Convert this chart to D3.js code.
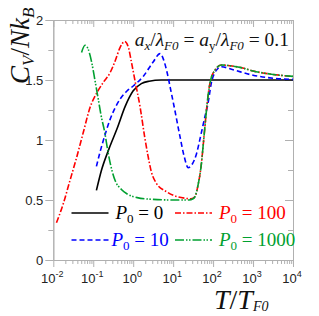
<!DOCTYPE html>
<html><head><meta charset="utf-8">
<script src="https://cdn.jsdelivr.net/npm/d3@7"></script>
<style>body{margin:0;background:#fff}svg{display:block}</style>
</head><body>
<script>
// ---- data ----
const xDecades = [0.01, 0.1, 1, 10, 100, 1000, 10000];
const xExponents = ["-2", "-1", "0", "1", "2", "3", "4"];
const yTicks = [0, 0.5, 1, 1.5, 2];
const yTickLabels = ["0", "0.5", "1", "1.5", "2"];
const yMinorTicks = [0.25, 0.75, 1.25, 1.75];

const tBlack = [0.12, 0.158, 0.25, 0.4, 0.63, 1, 1.6, 2.5, 5, 10, 100, 1000, 10000];
const cBlack = [0.58, 0.74, 0.93, 1.1, 1.28, 1.41, 1.47, 1.49, 1.5, 1.5, 1.5, 1.5, 1.5];

const tBlue = [0.12, 0.148, 0.2, 0.263, 0.355, 0.468, 0.708, 1, 1.78, 3.16, 4.68, 5.75, 7.08, 8.9, 11, 14.8, 19, 23.7, 30.2, 38, 50, 63, 74, 91, 120, 162, 316, 1000, 3160, 10000];
const cBlue = [0.78, 0.9, 1.05, 1.17, 1.27, 1.34, 1.41, 1.45, 1.53, 1.65, 1.72, 1.67, 1.56, 1.4, 1.25, 1.03, 0.86, 0.77, 0.8, 0.88, 1.05, 1.2, 1.3, 1.48, 1.58, 1.61, 1.585, 1.54, 1.515, 1.505];

const tRed = [0.012, 0.0178, 0.025, 0.038, 0.056, 0.083, 0.126, 0.178, 0.263, 0.355, 0.468, 0.617, 0.76, 0.89, 1.1, 1.48, 1.95, 2.34, 2.82, 3.8, 6.76, 12, 19.5, 28, 35.5, 41.7, 50, 60, 70.8, 83, 110, 162, 316, 550, 1000, 2630, 10000];
const cRed = [0.31, 0.47, 0.64, 0.85, 1.06, 1.27, 1.4, 1.48, 1.56, 1.66, 1.77, 1.82, 1.77, 1.66, 1.5, 1.28, 1.02, 0.87, 0.74, 0.64, 0.57, 0.53, 0.515, 0.51, 0.53, 0.62, 0.78, 1.05, 1.3, 1.47, 1.58, 1.625, 1.615, 1.6, 1.575, 1.55, 1.53];

const tGreen = [0.051, 0.062, 0.074, 0.091, 0.11, 0.132, 0.158, 0.195, 0.234, 0.282, 0.355, 0.5, 0.708, 1.26, 3.16, 10, 25, 31.6, 35.5, 41.7, 50, 60, 70.8, 83, 110, 162, 316, 550, 1000, 2630, 10000];
const cGreen = [1.73, 1.79, 1.76, 1.65, 1.5, 1.35, 1.2, 1.06, 0.9, 0.77, 0.66, 0.59, 0.55, 0.52, 0.505, 0.5, 0.5, 0.51, 0.53, 0.62, 0.78, 1.05, 1.3, 1.47, 1.58, 1.625, 1.615, 1.6, 1.575, 1.55, 1.53];

const seriesNames = ["0", "10", "100", "1000"];
const seriesColors = ["#000000", "#0000ff", "#ff0000", "#00a030"];
const seriesDash = [null, "5,3", "6,2,1.5,2", "9,2,1.5,1.5,1.5,2"];

// ---- layout ----
const W = 319, H = 316;
const m = {l: 53.3, r: 26, t: 20, b: 56};
const svg = d3.select("body").append("svg").attr("width", W).attr("height", H);
const x = d3.scaleLog().domain([0.01, 10000]).range([m.l, W - m.r]);
const y = d3.scaleLinear().domain([0, 2]).range([H - m.b, m.t]);
const axisColor = "#b0b0b0";
const x0 = x.range()[0], x1 = x.range()[1], y0 = y.range()[0], y1 = y.range()[1];

// minor x ticks
const xMinor = [];
xDecades.slice(0, -1).forEach(d => { for (let k = 2; k <= 9; k++) xMinor.push(d * k); });

function styleAxis(g) {
  g.select(".domain").attr("stroke", axisColor);
  g.selectAll(".tick line").attr("stroke", axisColor);
  g.selectAll(".tick text").remove();
}
// bottom
svg.append("g").attr("transform", `translate(0,${y0})`)
  .call(d3.axisBottom(x).tickValues(xDecades).tickSize(7).tickSizeOuter(0)).call(styleAxis);
svg.append("g").attr("transform", `translate(0,${y0})`)
  .call(d3.axisBottom(x).tickValues(xMinor).tickSize(4).tickSizeOuter(0)).call(styleAxis);
// top
svg.append("g").attr("transform", `translate(0,${y1})`)
  .call(d3.axisTop(x).tickValues(xDecades).tickSize(-7).tickSizeOuter(0)).call(styleAxis);
svg.append("g").attr("transform", `translate(0,${y1})`)
  .call(d3.axisTop(x).tickValues(xMinor).tickSize(-4).tickSizeOuter(0)).call(styleAxis);
// left
svg.append("g").attr("transform", `translate(${x0},0)`)
  .call(d3.axisLeft(y).tickValues(yTicks).tickSize(8).tickSizeOuter(0)).call(styleAxis);
svg.append("g").attr("transform", `translate(${x0},0)`)
  .call(d3.axisLeft(y).tickValues(yMinorTicks).tickSize(5).tickSizeOuter(0)).call(styleAxis);
// right
svg.append("g").attr("transform", `translate(${x1},0)`)
  .call(d3.axisRight(y).tickValues(yTicks).tickSize(-8).tickSizeOuter(0)).call(styleAxis);
svg.append("g").attr("transform", `translate(${x1},0)`)
  .call(d3.axisRight(y).tickValues(yMinorTicks).tickSize(-5).tickSizeOuter(0)).call(styleAxis);

// tick labels
const lblFont = "'Liberation Sans', Arial, sans-serif";
svg.append("g").selectAll("text").data(yTicks).join("text")
  .attr("x", x0 - 10).attr("y", d => y(d) + 4.5)
  .attr("text-anchor", "end").attr("font-family", lblFont).attr("font-size", 13).attr("fill", "#222")
  .text((d, i) => yTickLabels[i]);
const xl = svg.append("g").selectAll("text").data(xDecades).join("text")
  .attr("x", d => x(d) - 1).attr("y", y0 + 23)
  .attr("text-anchor", "middle").attr("font-family", lblFont).attr("font-size", 13).attr("fill", "#222");
xl.append("tspan").text("10");
xl.append("tspan").attr("dy", -6).attr("font-size", 9).text((d, i) => xExponents[i]);

// curves
const line = d3.line().x(d => x(d[0])).y(d => y(d[1])).curve(d3.curveMonotoneX);
const seriesData = [d3.zip(tBlack, cBlack), d3.zip(tBlue, cBlue), d3.zip(tRed, cRed), d3.zip(tGreen, cGreen)];
seriesData.forEach((s, i) => {
  svg.append("path").datum(s).attr("d", line).attr("fill", "none")
    .attr("stroke", seriesColors[i]).attr("stroke-width", 1.6)
    .attr("stroke-dasharray", seriesDash[i]);
});

// legend
const serif = "'Liberation Serif', 'Times New Roman', serif";
const legPos = [[71.5, 213], [71.5, 240], [175, 213], [175, 240]];
seriesNames.forEach((n, i) => {
  const [lx, ly] = legPos[i];
  svg.append("line").attr("x1", lx).attr("x2", lx + 37).attr("y1", ly).attr("y2", ly)
    .attr("stroke", seriesColors[i]).attr("stroke-width", 1.6).attr("stroke-dasharray", seriesDash[i]);
  const t = svg.append("text").attr("x", lx + (i === 1 ? 40 : 44)).attr("y", ly + 6)
    .attr("font-family", serif).attr("font-size", 19).attr("fill", seriesColors[i]);
  t.append("tspan").attr("font-style", "italic").text("P");
  t.append("tspan").attr("font-size", 13).attr("dy", 4).text("0");
  t.append("tspan").attr("dy", -4).text(" = " + n);
});

// annotation
const ann = svg.append("text").attr("x", 289).attr("y", 46).attr("text-anchor", "end")
  .attr("font-family", serif).attr("font-size", 19.5).attr("fill", "#111");
ann.append("tspan").attr("font-style", "italic").text("a");
ann.append("tspan").attr("font-style", "italic").attr("font-size", 13).attr("dy", 4).text("x");
ann.append("tspan").attr("dy", -4).text("/");
ann.append("tspan").attr("font-style", "italic").text("λ");
ann.append("tspan").attr("font-style", "italic").attr("font-size", 13).attr("dy", 4).text("F0");
ann.append("tspan").attr("dy", -4).text(" = ");
ann.append("tspan").attr("font-style", "italic").text("a");
ann.append("tspan").attr("font-size", 13).attr("dy", 4).text("y");
ann.append("tspan").attr("dy", -4).text("/");
ann.append("tspan").attr("font-style", "italic").text("λ");
ann.append("tspan").attr("font-style", "italic").attr("font-size", 13).attr("dy", 4).text("F0");
ann.append("tspan").attr("dy", -4).text(" = 0.1");

// axis titles
const yt = svg.append("text").attr("transform", "translate(29,84) rotate(-90)")
  .attr("font-family", serif).attr("font-size", 27).attr("font-style", "italic").attr("fill", "#111");
yt.append("tspan").text("C");
yt.append("tspan").attr("font-size", 17).attr("dy", 5).text("V");
yt.append("tspan").attr("dy", -5).attr("font-style", "normal").text("/");
yt.append("tspan").text("Nk");
yt.append("tspan").attr("font-size", 17).attr("dy", 5).text("B");

const xt = svg.append("text").attr("x", 214).attr("y", 309)
  .attr("font-family", serif).attr("font-size", 28).attr("font-style", "italic").attr("fill", "#111");
xt.append("tspan").text("T");
xt.append("tspan").attr("font-style", "normal").text("/");
xt.append("tspan").text("T");
xt.append("tspan").attr("font-size", 14).attr("dy", 2).text("F0");
</script>
</body></html>
